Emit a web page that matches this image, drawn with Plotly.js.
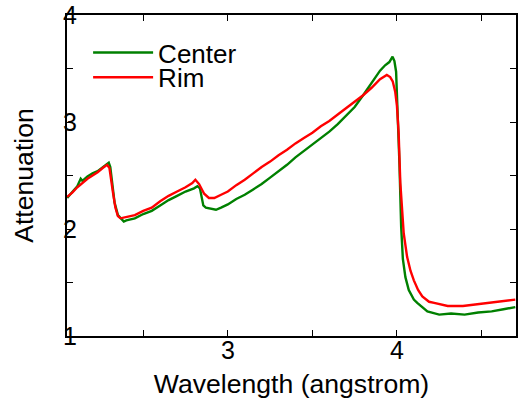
<!DOCTYPE html>
<html>
<head>
<meta charset="utf-8">
<script src="https://cdn.plot.ly/plotly-3.0.1.min.js"></script>
<style>
  html, body { margin: 0; padding: 0; background: #fff; }
  #chart { width: 519px; height: 399px; }
</style>
</head>
<body>
<div id="chart"></div>
<script>
// Attenuation spectra measured at the center and at the rim of the sample.
const centerWavelength = [2.05, 2.08, 2.11, 2.13, 2.14, 2.17, 2.20, 2.23, 2.26, 2.28, 2.296, 2.305, 2.315, 2.33, 2.35, 2.37, 2.385, 2.40, 2.45, 2.50, 2.55, 2.60, 2.65, 2.70, 2.75, 2.80, 2.82, 2.835, 2.845, 2.855, 2.87, 2.90, 2.93, 2.96, 3.00, 3.05, 3.10, 3.15, 3.20, 3.25, 3.30, 3.35, 3.40, 3.45, 3.50, 3.55, 3.60, 3.65, 3.70, 3.75, 3.80, 3.85, 3.90, 3.93, 3.955, 3.974, 3.985, 3.995, 4.005, 4.015, 4.025, 4.035, 4.05, 4.07, 4.10, 4.12, 4.18, 4.25, 4.32, 4.40, 4.48, 4.56, 4.63, 4.70];
const centerAttenuation = [2.29, 2.34, 2.40, 2.47, 2.45, 2.49, 2.52, 2.54, 2.58, 2.60, 2.62, 2.58, 2.45, 2.25, 2.13, 2.09, 2.07, 2.08, 2.10, 2.14, 2.17, 2.22, 2.27, 2.31, 2.35, 2.38, 2.40, 2.38, 2.31, 2.22, 2.20, 2.19, 2.18, 2.20, 2.23, 2.28, 2.32, 2.37, 2.42, 2.48, 2.54, 2.60, 2.67, 2.73, 2.79, 2.85, 2.91, 2.98, 3.06, 3.14, 3.25, 3.36, 3.48, 3.53, 3.56, 3.61, 3.57, 3.47, 3.10, 2.60, 2.02, 1.72, 1.55, 1.43, 1.34, 1.31, 1.23, 1.20, 1.21, 1.20, 1.22, 1.23, 1.25, 1.27];

const rimWavelength = [2.05, 2.08, 2.11, 2.14, 2.17, 2.20, 2.23, 2.26, 2.286, 2.30, 2.31, 2.32, 2.335, 2.35, 2.365, 2.40, 2.45, 2.50, 2.55, 2.60, 2.65, 2.70, 2.75, 2.79, 2.808, 2.83, 2.86, 2.888, 2.92, 2.96, 3.00, 3.05, 3.10, 3.15, 3.20, 3.25, 3.30, 3.35, 3.40, 3.45, 3.50, 3.55, 3.60, 3.65, 3.70, 3.75, 3.80, 3.85, 3.90, 3.94, 3.96, 3.975, 3.99, 4.00, 4.01, 4.02, 4.04, 4.06, 4.08, 4.10, 4.125, 4.15, 4.19, 4.22, 4.30, 4.39, 4.49, 4.59, 4.70];
const rimAttenuation = [2.30, 2.34, 2.39, 2.43, 2.47, 2.50, 2.53, 2.57, 2.60, 2.57, 2.48, 2.35, 2.20, 2.12, 2.10, 2.11, 2.13, 2.17, 2.20, 2.26, 2.31, 2.35, 2.39, 2.43, 2.46, 2.42, 2.33, 2.29, 2.29, 2.32, 2.35, 2.41, 2.46, 2.52, 2.58, 2.63, 2.69, 2.74, 2.80, 2.85, 2.90, 2.96, 3.01, 3.07, 3.13, 3.19, 3.25, 3.32, 3.40, 3.44, 3.42, 3.38, 3.28, 3.15, 2.90, 2.43, 1.96, 1.74, 1.61, 1.52, 1.43, 1.37, 1.32, 1.31, 1.28, 1.28, 1.30, 1.32, 1.34];

// Axis ticks every half unit; only whole units carry a label.
const xTickValues = [2.5, 3, 3.5, 4, 4.5];
const xTickLabels = ['', '3', '', '4', ''];
const yTickValues = [1, 1.5, 2, 2.5, 3, 3.5, 4];
const yTickLabels = ['1', '', '2', '', '3', '', '4'];

const font = 'Liberation Sans, Arial, Helvetica, sans-serif';
const legendFont = { family: font, size: 26, color: '#000' };

// Each series gets its own legend box so the two rows can sit close together.
const traces = [
  {
    x: centerWavelength, y: centerAttenuation, name: 'Center',
    type: 'scatter', mode: 'lines', legend: 'legend',
    line: { color: 'rgb(0,128,0)', width: 2.4 }
  },
  {
    x: rimWavelength, y: rimAttenuation, name: 'Rim',
    type: 'scatter', mode: 'lines', legend: 'legend2',
    line: { color: 'rgb(255,0,0)', width: 2.4 }
  }
];

const axisCommon = {
  showgrid: false, zeroline: false,
  showline: true, linecolor: '#000', linewidth: 2,
  mirror: 'ticks', ticks: 'inside', ticklen: 6, tickwidth: 1, tickcolor: '#000',
  tickfont: { family: font, size: 25, color: '#000' },
  tickmode: 'array'
};

const legendCommon = {
  xanchor: 'left', yanchor: 'top',
  bgcolor: 'rgba(0,0,0,0)', borderwidth: 0,
  font: legendFont, itemwidth: 60
};

const layout = {
  width: 519, height: 399,
  margin: { l: 67, r: 3, t: 15, b: 63 },
  paper_bgcolor: '#fff', plot_bgcolor: '#fff',
  font: { family: font, color: '#000' },
  showlegend: true,
  legend: Object.assign({}, legendCommon, { x: 0.047, y: 0.956 }),
  legend2: Object.assign({}, legendCommon, { x: 0.047, y: 0.879 }),
  xaxis: Object.assign({}, axisCommon, {
    range: [2.049, 4.704],
    tickvals: xTickValues, ticktext: xTickLabels,
    ticklabelstandoff: -9,
    title: { text: 'Wavelength (angstrom)', font: { family: font, size: 26.6, color: '#000' }, standoff: 12 }
  }),
  yaxis: Object.assign({}, axisCommon, {
    range: [1, 4],
    tickvals: yTickValues, ticktext: yTickLabels,
    ticklabelstandoff: -17,
    title: { text: 'Attenuation', font: { family: font, size: 26.6, color: '#000' }, standoff: 22 }
  })
};

Plotly.newPlot('chart', traces, layout, { staticPlot: true, displayModeBar: false });
</script>
</body>
</html>
